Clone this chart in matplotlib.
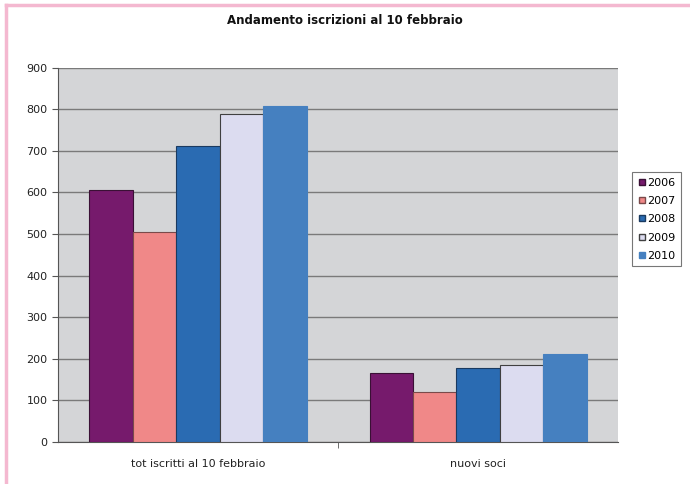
import matplotlib
matplotlib.use("Agg")
import matplotlib.pyplot as plt
import numpy as np
from matplotlib.lines import Line2D

categories = ["tot iscritti al 10 febbraio", "nuovi soci"]
years = ["2006", "2007", "2008", "2009", "2010"]
values = {
    "2006": [606, 165],
    "2007": [504, 121],
    "2008": [712, 178],
    "2009": [789, 186],
    "2010": [808, 212],
}
colors = ["#761a6c", "#f08888", "#2a6bb2", "#dcdcf0", "#4580c0"]
edges = ["#3a1035", "#7a4a4a", "#1a3a60", "#404040", "#4580c0"]

fig = plt.figure(figsize=(6.9, 4.84), dpi=100)
ax = fig.add_axes([0.084, 0.087, 0.812, 0.773])
ax.set_facecolor("#d4d5d7")

x = np.arange(len(categories))
w = 0.155
for i, y in enumerate(years):
    ax.bar(x + (i - 2) * w, values[y], width=w, color=colors[i],
           edgecolor=edges[i], linewidth=0.8, label=y, zorder=3)

ax.set_xlim(-0.5, 1.5)
ax.set_ylim(0, 900)
ax.set_yticks(range(0, 901, 100))
ax.yaxis.grid(True, color="#7a7a7a", linewidth=1.0, zorder=0)
ax.set_xticks(x)
ax.set_xticklabels(categories, fontsize=8, color="#222222")
ax.tick_params(axis="x", length=0, pad=12)
ax.set_xticks([0.5], minor=True)
ax.tick_params(axis="x", which="minor", length=4, color="#555555")
ax.tick_params(axis="y", labelsize=8, length=4, color="#555555", labelcolor="#222222")
for s in ["top", "right"]:
    ax.spines[s].set_visible(False)
for s in ["left", "bottom"]:
    ax.spines[s].set_color("#555555")

fig.text(0.5, 0.957, "Andamento iscrizioni al 10 febbraio", ha="center", va="center",
         fontsize=8.5, fontweight="bold", color="#111111")

handles = [Line2D([0], [0], marker="s", linestyle="", markersize=5,
                  markerfacecolor=colors[i], markeredgecolor=edges[i]) for i in range(5)]
leg = fig.legend(handles, years, loc="center left", bbox_to_anchor=(0.916, 0.547),
                 fontsize=8, frameon=True, fancybox=False, handletextpad=0.1,
                 handlelength=0.8, labelspacing=0.75, borderpad=0.5, borderaxespad=0)
leg.get_frame().set_edgecolor("#555555")
leg.get_frame().set_linewidth(0.8)

# pink border lines (top and left)
fig.add_artist(Line2D([0.008, 1.0], [0.99, 0.99], color="#f4b8d0", linewidth=2.5))
fig.add_artist(Line2D([0.008, 0.008], [0.0, 0.99], color="#f4b8d0", linewidth=2.5))

fig.savefig("out.png", dpi=100)
